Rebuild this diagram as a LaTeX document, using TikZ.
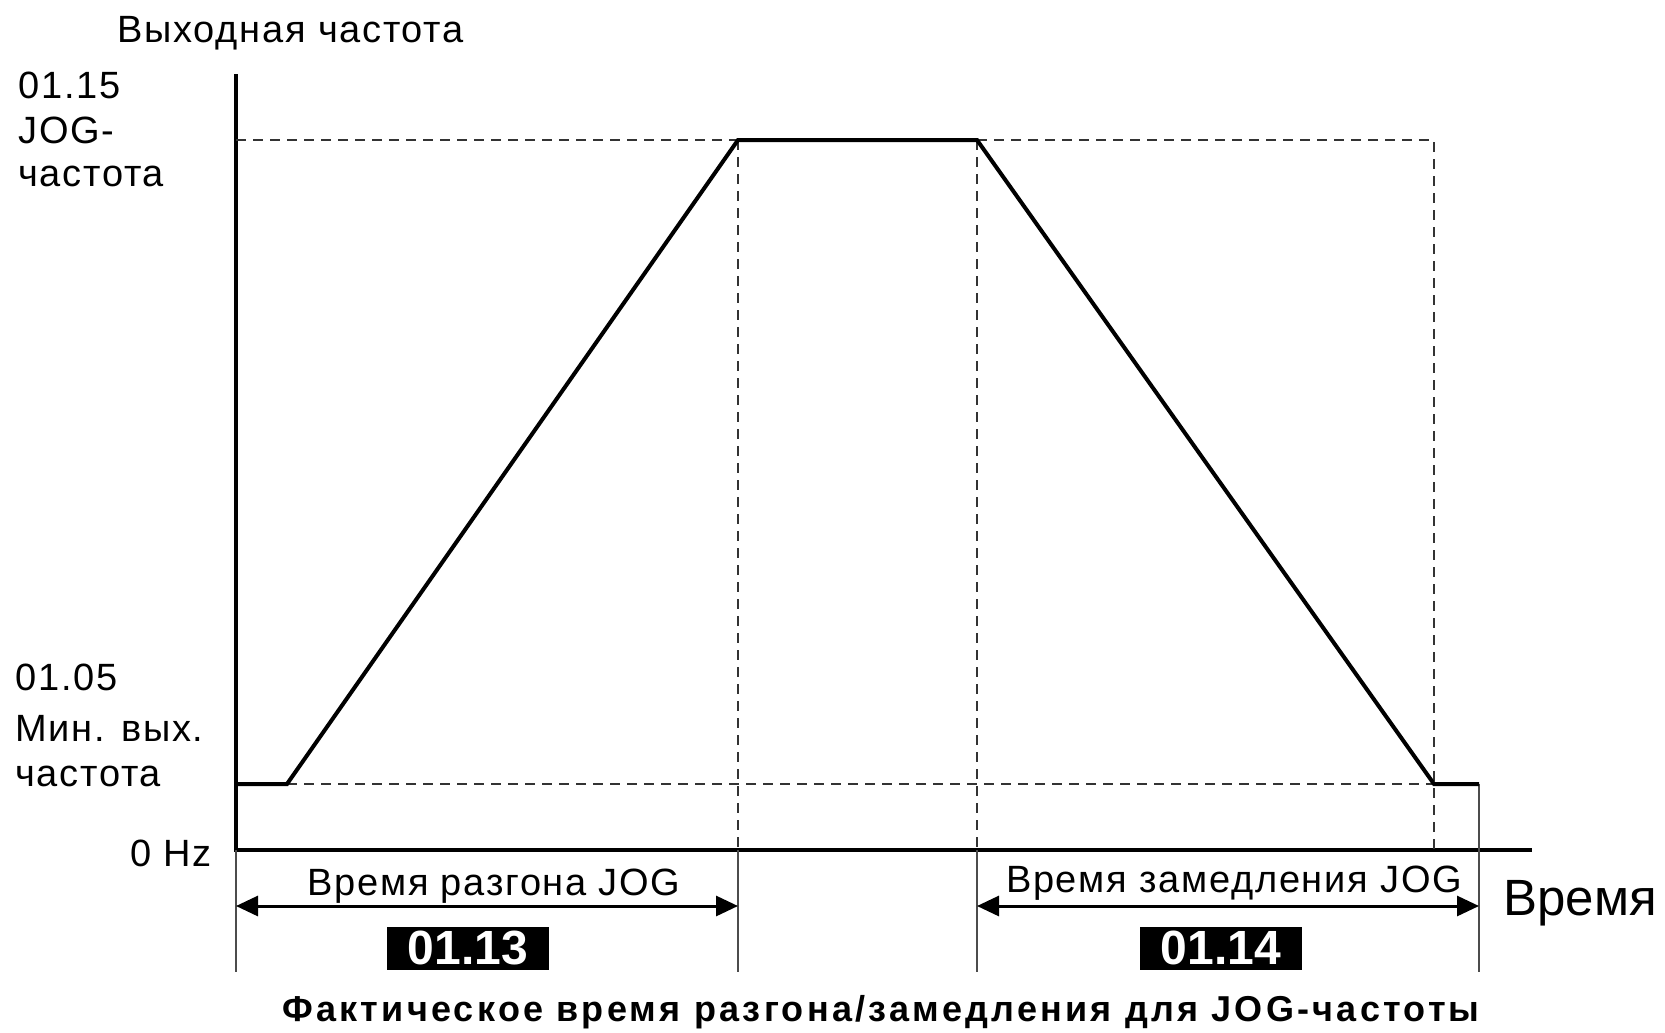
\documentclass[tikz,border=0pt]{standalone}
\usepackage{fontspec}
\setmainfont{Liberation Sans}
\newfontfamily\lblfont[LetterSpace=4.5]{Liberation Sans}
\newfontfamily\ttlfont[LetterSpace=9]{Liberation Sans}
\usetikzlibrary{arrows.meta,positioning}
\tikzset{
    axis/.style={line width=1.6pt},
    curve/.style={line width=2pt,line join=miter},
    guide/.style={line width=0.8pt,dash pattern=on 5pt off 3.5pt,black!80},
    tick/.style={line width=0.6pt,black!70},
    span/.style={{Triangle[length=11pt,width=10pt]}-{Triangle[length=11pt,width=10pt]},line width=1.5pt},
    lbl/.style={inner sep=0pt,font=\fontsize{19}{22}\lblfont},
    code/.style={fill=black,text=white,minimum width=81pt,minimum height=21.5pt,inner sep=0pt,
        font=\fontsize{24}{24}\selectfont\bfseries}
}

\begin{document}
\begin{tikzpicture}[x=0.5pt,y=-0.5pt]
    \useasboundingbox (0,0) rectangle (1665,1033);
    % axes
    \coordinate (O) at (236,850);
    \coordinate (ytop) at (236,74);
    \coordinate (xend) at (1532,850);
    \draw[axis] (ytop) -- (O) -- (xend);
    % curve points
    \coordinate (s) at (236,784);
    \coordinate (k1) at (287,784);
    \coordinate (p1) at (738,140);
    \coordinate (p2) at (977,140);
    \coordinate (k2) at (1434,784);
    \coordinate (e) at (1479,784);
    \coordinate (jog) at (236,140);
    \coordinate (jogr) at (1434,140);
    % foot points under the axis
    \coordinate (f0) at (236,972);
    \coordinate (f1) at (738,972);
    \coordinate (f2) at (977,972);
    \coordinate (f3) at (1479,972);
    % guides
    \draw[guide] (jog) -- (p1);
    \draw[guide] (p2) -- (jogr) -- (k2 |- O);
    \draw[guide] (k1) -- (k2);
    \draw[guide] (p1) -- (p1 |- O);
    \draw[guide] (p2) -- (p2 |- O);
    \draw[tick] (O) -- (f0);
    \draw[tick] (p1 |- O) -- (f1);
    \draw[tick] (p2 |- O) -- (f2);
    \draw[tick] (e) -- (f3);
    \draw[curve] (s) -- (k1) -- (p1) -- (p2) -- (k2) -- (e);
    % time spans
    \draw[span] (236,906) -- (738,906);
    \draw[span] (977,906) -- (1479,906);
    \node[code] (c13) at (468,948) {01.13};
    \node[code] (c14) at (1221,948) {01.14};
    % labels
    \node[lbl,anchor=base west] (ylab) at (117,42) {Выходная частота};
    \node[lbl,anchor=base west] (l15) at (18,98) {01.15};
    \node[lbl,anchor=base west] (ljog) at (18,143) {JOG-};
    \node[lbl,anchor=base west] (lfrq) at (18,186) {частота};
    \node[lbl,anchor=base west] (l05) at (15,690) {01.05};
    \node[lbl,anchor=base west] (lmin) at (15,741) {Мин. вых.};
    \node[lbl,anchor=base west] (lfrq2) at (15,786) {частота};
    \node[lbl,anchor=base east] (lhz) at (212,866) {0 Hz};
    \node[lbl,anchor=base] (lacc) at (494,895) {Время разгона JOG};
    \node[lbl,anchor=base] (ldec) at (1234,892) {Время замедления JOG};
    \node[lbl,anchor=base west,font=\fontsize{25.5}{28}\selectfont] (ltime) at (1503,915) {Время};
    \node[lbl,anchor=base,font=\fontsize{18}{20}\ttlfont\bfseries] (title) at (881,1021)
        {Фактическое время разгона/замедления для JOG-частоты};
\end{tikzpicture}
\end{document}
